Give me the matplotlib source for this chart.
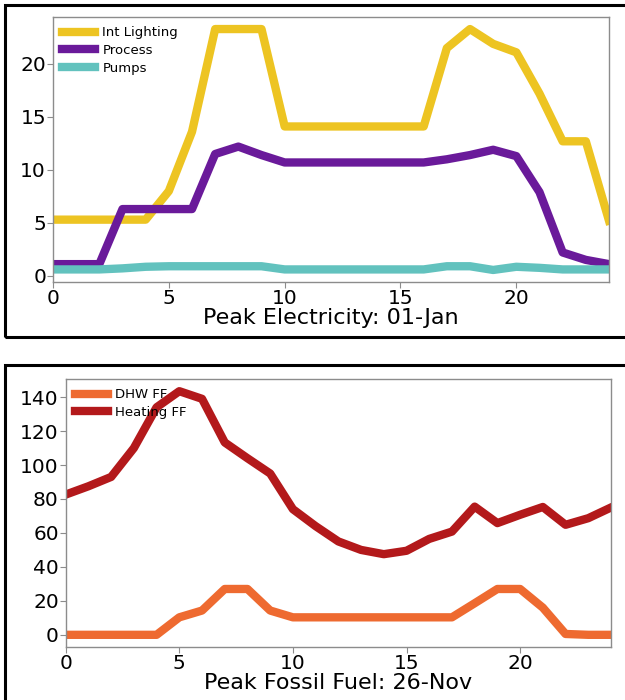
import matplotlib
matplotlib.use("Agg")
import matplotlib.pyplot as plt
from matplotlib.patches import Rectangle

hours = list(range(25))

int_lighting = [5.3, 5.3, 5.3, 5.3, 5.3, 8.0, 13.6, 23.3, 23.3, 23.3, 14.1, 14.1, 14.1,
                14.1, 14.1, 14.1, 14.1, 21.5, 23.3, 21.9, 21.1, 17.2, 12.7, 12.7, 5.2]
process = [1.1, 1.1, 1.1, 6.3, 6.3, 6.3, 6.3, 11.5, 12.2, 11.4, 10.7, 10.7, 10.7,
           10.7, 10.7, 10.7, 10.7, 11.0, 11.4, 11.9, 11.3, 7.9, 2.2, 1.5, 1.1]
pumps = [0.6, 0.6, 0.6, 0.7, 0.85, 0.9, 0.9, 0.9, 0.9, 0.9, 0.6, 0.6, 0.6,
         0.6, 0.6, 0.6, 0.6, 0.9, 0.9, 0.55, 0.85, 0.75, 0.6, 0.6, 0.6]

dhw_ff = [0, 0, 0, 0, 0, 10.3, 14.3, 27, 27, 14.3, 10.3, 10.3, 10.3,
          10.3, 10.3, 10.3, 10.3, 10.3, 18.6, 27, 27, 16, 0.5, 0, 0]
heating_ff = [82.6, 87.5, 93, 110, 134, 143.5, 139, 113.3, 104, 95, 74, 64, 55,
              50, 47.5, 49.5, 56.5, 60.8, 75.5, 65.8, 70.7, 75.3, 64.8, 68.7, 75]

title_top = "Peak Electricity: 01-Jan"
title_bot = "Peak Fossil Fuel: 26-Nov"

W, H = 625, 700
fig = plt.figure(figsize=(W / 100, H / 100), dpi=100)

def frac(l, t, r, b):
    return [l / W, 1 - b / H, (r - l) / W, (b - t) / H]

# border boxes
for (l, t, r, b) in [(5, 5, 640, 337), (5, 365, 640, 720)]:
    fig.add_artist(Rectangle((l / W, 1 - b / H), (r - l) / W, (b - t) / H,
                             transform=fig.transFigure, fill=False,
                             edgecolor="black", linewidth=2.2, clip_on=False))

def style(ax):
    for s in ax.spines.values():
        s.set_color("#8c8c8c")
        s.set_linewidth(1.0)
    ax.tick_params(axis="both", labelsize=14.5, colors="#8c8c8c",
                   labelcolor="black", length=4, width=0.8, pad=1)
    ax.set_xlim(0, 24)
    ax.set_xticks([0, 5, 10, 15, 20])

def legend(ax):
    ax.legend(loc="upper left", frameon=False, fontsize=9.5, handlelength=2.5,
              borderaxespad=0.3, borderpad=0.4, labelspacing=0.36,
              handletextpad=0.55)

ax1 = fig.add_axes(frac(53, 17, 609, 282))
ax1.plot(hours, int_lighting, color="#EDC422", lw=6, label="Int Lighting")
ax1.plot(hours, process, color="#6A1A9A", lw=6, label="Process")
ax1.plot(hours, pumps, color="#62C2BE", lw=6, label="Pumps")
style(ax1)
ax1.set_yticks([0, 5, 10, 15, 20])
ax1.set_xlabel(title_top, fontsize=16, labelpad=0)
legend(ax1)

ax2 = fig.add_axes(frac(65.7, 379, 611, 647))
ax2.plot(hours, dhw_ff, color="#EE6A30", lw=6, label="DHW FF")
ax2.plot(hours, heating_ff, color="#B3191B", lw=6, label="Heating FF")
style(ax2)
ax2.set_yticks([0, 20, 40, 60, 80, 100, 120, 140])
ax2.set_xlabel(title_bot, fontsize=16, labelpad=0)
legend(ax2)

fig.savefig("out.png", dpi=100)
